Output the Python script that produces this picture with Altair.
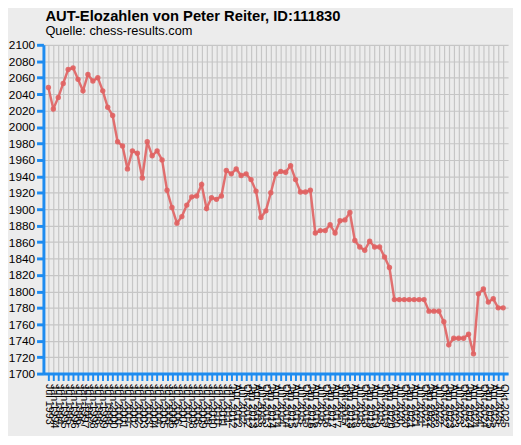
import altair as alt
import pandas as pd

dates = [
    "Jul 1993",
    "Jan 1994", "Jul 1994", "Jan 1995", "Jul 1995", "Jan 1996", "Jul 1996",
    "Jan 1997", "Jul 1997", "Jan 1998", "Jul 1998", "Jan 1999", "Jul 1999",
    "Jan 2000", "Jul 2000", "Jan 2001", "Jul 2001", "Jan 2002", "Jul 2002",
    "Jan 2003", "Jul 2003", "Jan 2004", "Jul 2004", "Jan 2005", "Jul 2005",
    "Jan 2006", "Jul 2006", "Jan 2007", "Jul 2007", "Jan 2008", "Jul 2008",
    "Jan 2009", "Jul 2009", "Jan 2010", "Jul 2010", "Jan 2011", "Jul 2011",
    "Jan 2012", "Apr 2012", "Jul 2012", "Okt 2012",
    "Jan 2013", "Apr 2013", "Jul 2013", "Okt 2013",
    "Jan 2014", "Apr 2014", "Jul 2014", "Okt 2014",
    "Jan 2015", "Apr 2015", "Jul 2015", "Okt 2015",
    "Jan 2016", "Apr 2016", "Jul 2016", "Okt 2016",
    "Jan 2017", "Apr 2017", "Jul 2017", "Okt 2017",
    "Jan 2018", "Apr 2018", "Jul 2018", "Okt 2018",
    "Jan 2019", "Apr 2019", "Jul 2019", "Okt 2019",
    "Jan 2020", "Apr 2020", "Jul 2020", "Okt 2020",
    "Jan 2021", "Apr 2021", "Jul 2021", "Okt 2021",
    "Jan 2022", "Apr 2022", "Jul 2022", "Okt 2022",
    "Jan 2023", "Apr 2023", "Jul 2023", "Okt 2023",
    "Jan 2024", "Apr 2024", "Jul 2024", "Okt 2024",
    "Jan 2025", "Apr 2025", "Jul 2025", "Okt 2025",
]

elo = [
    2048, 2022, 2036, 2053, 2070, 2072, 2058, 2044, 2064, 2056,
    2060, 2044, 2024, 2014, 1982, 1977, 1949, 1971, 1968, 1938,
    1982, 1965, 1971, 1960, 1923, 1902, 1883, 1891, 1905, 1915,
    1916, 1930, 1901, 1914, 1912, 1916, 1947, 1943, 1949, 1941,
    1943, 1936, 1922, 1890, 1898, 1920, 1943, 1946, 1945, 1953,
    1936, 1921, 1921, 1923, 1871, 1874, 1874, 1881, 1871, 1886,
    1887, 1896, 1862, 1854, 1850, 1861, 1854, 1854, 1842, 1829,
    1790, 1790, 1790, 1790, 1790, 1790, 1790, 1776, 1776, 1776,
    1763, 1735, 1743, 1743, 1743, 1748, 1724, 1797, 1803, 1787,
    1791, 1780, 1780,
]

y_ticks = list(range(1700, 2101, 20))

df = pd.DataFrame({"Datum": dates, "Elo": elo})

BLUE = "#1e8cf0"
RED = "#e06262"
FONT = "Liberation Sans"

x_enc = alt.X(
    "Datum:O",
    sort=None,
    scale=alt.Scale(type="point", padding=1.25),
    axis=alt.Axis(
        title=None,
        labelAngle=90,
        labelAlign="left",
        labelBaseline="middle",
        labelFontSize=11,
        labelFont=FONT,
        labelColor="#000000",
        labelOverlap=False,
        labelPadding=3,
        tickColor=BLUE,
        tickWidth=2,
        tickSize=7,
        domainColor=BLUE,
        domainWidth=3,
        grid=True,
        gridColor="#c6c6c6",
        gridWidth=1.2,
    ),
)

y_enc = alt.Y(
    "Elo:Q",
    scale=alt.Scale(domain=[1700, 2100], nice=False, zero=False),
    axis=alt.Axis(
        title=None,
        values=y_ticks,
        format="d",
        labelFontSize=12,
        labelFont=FONT,
        labelColor="#000000",
        labelPadding=2,
        tickColor=BLUE,
        tickWidth=3,
        tickSize=7,
        domainColor=BLUE,
        domainWidth=3,
        grid=True,
        gridColor="#c6c6c6",
        gridWidth=1.2,
    ),
)

base = alt.Chart(df).encode(x=x_enc, y=y_enc)

line = base.mark_line(color=RED, strokeWidth=2.5, opacity=0.9)
pts = base.mark_circle(color=RED, size=30, opacity=0.9)

chart = (
    (line + pts)
    .properties(
        width=472,
        height=334,
        autosize=alt.AutoSizeParams(type="none"),
        padding={"left": 36, "top": 34, "right": 5, "bottom": 60},
        title=alt.TitleParams(
            text="AUT-Elozahlen von Peter Reiter, ID:111830",
            subtitle="Quelle: chess-results.com",
            anchor="start",
            frame="group",
            dx=2,
            font=FONT,
            fontSize=15,
            fontWeight="bold",
            color="#000000",
            subtitleFont=FONT,
            subtitleFontSize=13,
            subtitleColor="#000000",
            subtitlePadding=1,
            offset=1,
        ),
    )
    .configure(background="#ececec")
    .configure_view(stroke=None, fill="#ececec")
)

chart.save("out.html", embed_options={"renderer": "svg", "actions": False})
